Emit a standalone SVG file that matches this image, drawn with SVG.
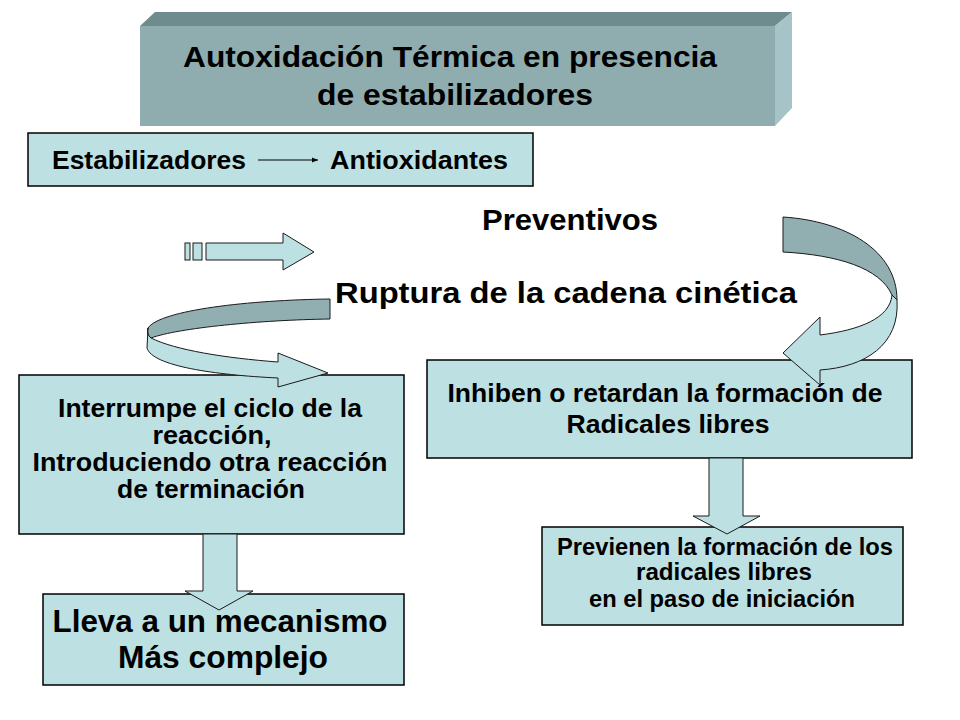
<svg xmlns="http://www.w3.org/2000/svg" width="960" height="720" viewBox="0 0 960 720">
<style>
text{font-family:"Liberation Sans",Arial,sans-serif;font-weight:bold;fill:#000;}
.box{fill:#BDE0E3;stroke:#000;stroke-width:1.5;}
.arr{fill:#BDE0E3;stroke:#1a1a1a;stroke-width:1;stroke-linejoin:miter;}
.dark{fill:#91AEB0;stroke:#1a1a1a;stroke-width:1;}
.c{text-anchor:middle;}
</style>
<defs>
<marker id="ah" viewBox="0 0 10 10" refX="10" refY="5" markerWidth="6" markerHeight="6" orient="auto" markerUnits="userSpaceOnUse">
<path d="M0,1 L10,5 L0,9 Z" fill="#000"/>
</marker>
</defs>
<rect width="960" height="720" fill="#fff"/>

<g id="title">
<polygon points="140,26 155,12 792,12 775,26" fill="#6E8B8D"/>
<polygon points="775,26 792,12 792,108 775,126" fill="#A6C4C7"/>
<rect x="140" y="26" width="635" height="100" fill="#8FADAF"/>
<text class="c" x="450" y="67" font-size="30" textLength="534" lengthAdjust="spacingAndGlyphs">Autoxidación Térmica en presencia</text>
<text class="c" x="455" y="105" font-size="30" textLength="276" lengthAdjust="spacingAndGlyphs">de estabilizadores</text>
</g>

<g id="estabilizadores">
<rect class="box" x="28" y="133" width="505" height="53"/>
<text x="52" y="169" font-size="26" textLength="194" lengthAdjust="spacingAndGlyphs">Estabilizadores</text>
<text x="330" y="169" font-size="26" textLength="178" lengthAdjust="spacingAndGlyphs">Antioxidantes</text>
</g>

<g id="preventivos">
<text class="c" x="570" y="230" font-size="29" textLength="176" lengthAdjust="spacingAndGlyphs">Preventivos</text>
</g>

<g id="ruptura">
<text class="c" x="566" y="303" font-size="30" textLength="462" lengthAdjust="spacingAndGlyphs">Ruptura de la cadena cinética</text>
</g>

<g id="interrumpe">
<rect class="box" x="19" y="375" width="385" height="159"/>
<text class="c" x="210" y="417" font-size="25" textLength="304" lengthAdjust="spacingAndGlyphs">Interrumpe el ciclo de la</text>
<text class="c" x="212" y="444" font-size="25" textLength="119" lengthAdjust="spacingAndGlyphs">reacción,</text>
<text class="c" x="210" y="471" font-size="25" textLength="355" lengthAdjust="spacingAndGlyphs">Introduciendo otra reacción</text>
<text class="c" x="211" y="498" font-size="25" textLength="188" lengthAdjust="spacingAndGlyphs">de terminación</text>
</g>

<g id="inhiben">
<rect class="box" x="427" y="360" width="485" height="98"/>
<text class="c" x="665" y="402" font-size="26" textLength="435" lengthAdjust="spacingAndGlyphs">Inhiben o retardan la formación de</text>
<text class="c" x="668" y="433" font-size="26" textLength="203" lengthAdjust="spacingAndGlyphs">Radicales libres</text>
</g>

<g id="lleva">
<rect class="box" x="43" y="594" width="361" height="91"/>
<text class="c" x="220" y="632" font-size="31" textLength="335" lengthAdjust="spacingAndGlyphs">Lleva a un mecanismo</text>
<text class="c" x="223" y="668" font-size="31" textLength="210" lengthAdjust="spacingAndGlyphs">Más complejo</text>
</g>

<g id="previenen">
<rect class="box" x="542" y="527" width="361" height="98"/>
<text class="c" x="725" y="555" font-size="24" textLength="336" lengthAdjust="spacingAndGlyphs">Previenen la formación de los</text>
<text class="c" x="724" y="580" font-size="24" textLength="176" lengthAdjust="spacingAndGlyphs">radicales libres</text>
<text class="c" x="722" y="607" font-size="24" textLength="266" lengthAdjust="spacingAndGlyphs">en el paso de iniciación</text>
</g>

<g id="connectors">
<line x1="258" y1="160" x2="318" y2="160" stroke="#000" stroke-width="1.2" marker-end="url(#ah)"/>
<g id="striped-arrow">
<rect class="arr" x="185" y="243" width="5" height="17"/>
<rect class="arr" x="193" y="243" width="9" height="17"/>
<polygon class="arr" points="206,243 283,243 283,233 314,252 283,270 283,260 206,260"/>
</g>
<g id="curl-left">
<path class="dark" d="M330,299 C250,300 160,310 148,328 Q146,334 151,338 C178,328 260,320 330,319 Z"/>
<path class="arr" d="M148,328 Q146,334 151,338 C175,350 225,358 278,362 L278,353 L328,373 L278,387 L278,378 C215,375 152,366 147,348 Z"/>
</g>
<g id="curl-right">
<path class="dark" d="M783,217 C845,221 897,250 897,300 L892,295 C880,268 838,255 783,252 Z"/>
<path class="arr" d="M892,295 L897,300 C900,345 865,367 820,370 L820,385 L783,353 L820,317 L820,335 C860,330 890,318 892,295 Z"/>
</g>
<polygon id="down-left" class="arr" points="203,534 237,534 237,591 253,591 219,610 185,591 203,591"/>
<polygon id="down-right" class="arr" points="709,458 743,458 743,516 760,516 727,534 693,516 709,516"/>
</g>
</svg>
